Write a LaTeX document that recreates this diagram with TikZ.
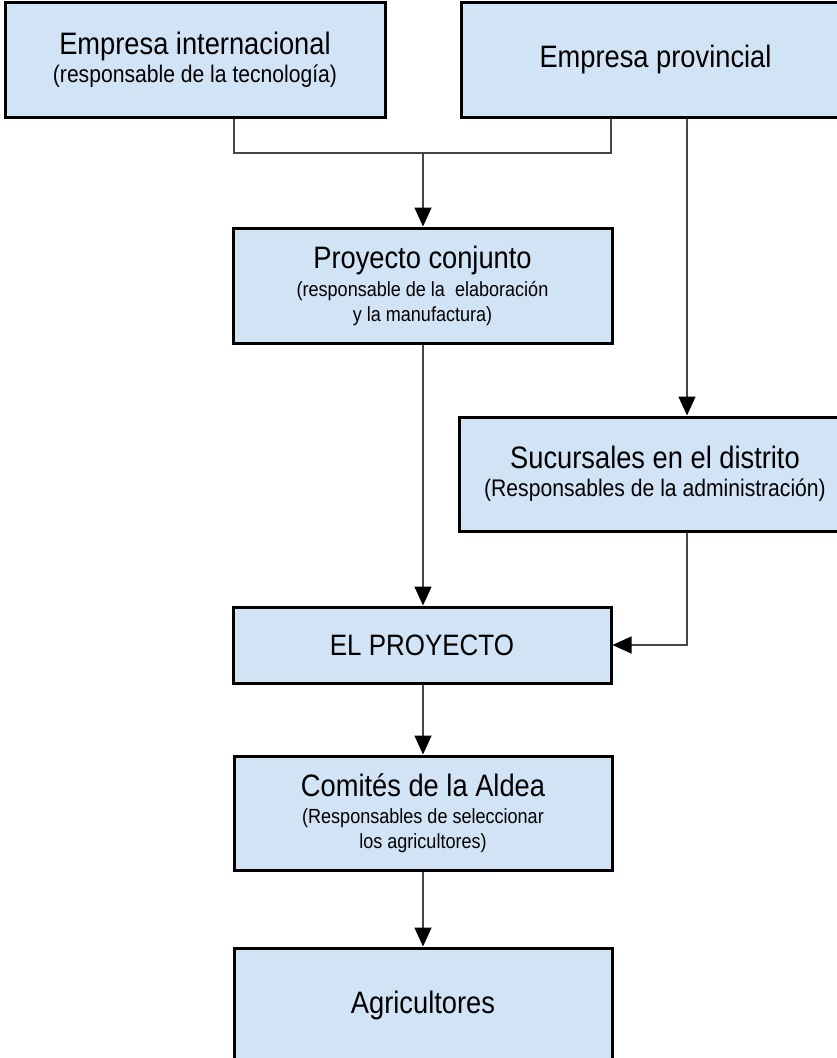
\documentclass[tikz,border=0pt]{standalone}
\usepackage{fontspec}
\setmainfont{Liberation Sans}[FakeStretch=0.88]
\usetikzlibrary{arrows.meta}
\definecolor{boxblue}{RGB}{208,228,245}
\definecolor{linegray}{RGB}{70,70,70}
\newcommand{\boxtitle}{\fontsize{31}{34}\selectfont}
\newcommand{\notelarge}{\fontsize{24}{27}\selectfont}
\newcommand{\notesmall}{\fontsize{20.5}{25}\selectfont}

\begin{document}
\begin{tikzpicture}
[x=1pt,y=-1pt,
box/.style={shape=rectangle,draw,line width=3pt,fill=boxblue,align=center,inner sep=0pt},
link/.style={draw=linegray,line width=1.5pt},
flow/.style={link,-{Triangle[length=19pt,width=17pt,color=black]}}]

\useasboundingbox (0,0) rectangle (837,1058);

% boxes
\node[box,font=\notelarge,minimum width=380pt,minimum height=115pt] (intl) at (195,59.5)
  {{\boxtitle Empresa internacional}\\[1pt](responsable de la tecnología)};
\node[box,font=\boxtitle,minimum width=389pt,minimum height=115pt] (prov) at (655.5,59.5)
  {Empresa provincial};
\node[box,font=\notesmall,minimum width=379pt,minimum height=115pt] (joint) at (422.5,285.5)
  {{\boxtitle Proyecto conjunto}\\[3pt](responsable de la\ \ elaboración\\y la manufactura)};
\node[box,font=\notelarge,minimum width=392pt,minimum height=114pt] (branch) at (655,474)
  {{\boxtitle Sucursales en el distrito}\\[1pt](Responsables de la administración)};
\node[box,font=\fontsize{29.5}{32}\selectfont,minimum width=378pt,minimum height=76pt] (proj) at (422,645)
  {EL PROYECTO};
\node[box,font=\notesmall,minimum width=378pt,minimum height=114pt] (village) at (423,813)
  {{\boxtitle Comités de la Aldea}\\[2pt](Responsables de seleccionar\\los agricultores)};
\node[box,font=\boxtitle,minimum width=378pt,minimum height=114pt] (farmers) at (423,1005)
  {Agricultores};

% connectors
\coordinate (merge) at (423,153);
\coordinate (drop) at (687,0);
\draw[link] (intl.south -| 234,0) |- (merge) -| (prov.south -| 611,0);
\draw[flow] (merge) -- (merge |- joint.north);
\draw[flow] (prov.south -| drop) -- (branch.north -| drop);
\draw[flow] (joint.south -| merge) -- (proj.north -| merge);
\draw[flow] (branch.south -| drop) |- (proj.east);
\draw[flow] (proj.south -| merge) -- (village.north -| merge);
\draw[flow] (village.south -| merge) -- (farmers.north -| merge);
\end{tikzpicture}
\end{document}
